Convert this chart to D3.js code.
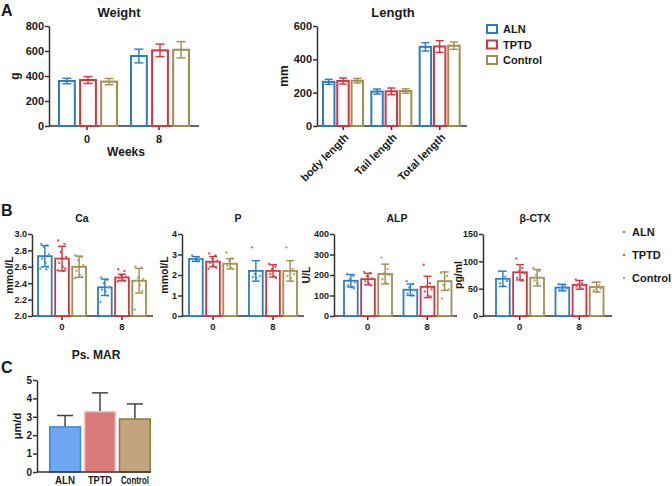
<!DOCTYPE html>
<html>
<head>
<meta charset="utf-8">
<script src="https://cdn.jsdelivr.net/npm/d3@7"></script>
<style>
  body { margin: 0; background: #fff; }
  text { font-family: Arial, "Liberation Sans", sans-serif; font-weight: bold; fill: #1a1a1a; }
</style>
</head>
<body>
<svg id="chart" width="672" height="486"></svg>
<script>
// ---- data ----
const series = ["ALN", "TPTD", "Control"];
const stroke = ["#2b7cc4", "#d2363e", "#a08d4f"];
const dotColor = ["#5fa3dd", "#dc5a61", "#bcaa72"];

const weeks = ["0", "8"];
const weightMean = [[360, 368, 355], [560, 605, 610]];
const weightSd = [[22, 28, 25], [55, 50, 65]];

const lengthCats = ["body length", "Tail length", "Total length"];
const lengthMean = [[265, 270, 272], [207, 208, 210], [475, 477, 482]];
const lengthSd = [[15, 18, 14], [15, 20, 13], [25, 35, 22]];

const caMean = [[2.73, 2.70, 2.60], [2.35, 2.47, 2.43]];
const caSd = [[0.13, 0.15, 0.13], [0.10, 0.04, 0.15]];
const caDots = [
  [[2.88, 2.86, 2.84, 2.75, 2.70, 2.65, 2.60, 2.58, 2.57],
   [2.92, 2.88, 2.78, 2.72, 2.65, 2.60, 2.58, 2.56, 2.55],
   [2.74, 2.72, 2.68, 2.62, 2.55, 2.50, 2.48, 2.46]],
  [[2.47, 2.44, 2.40, 2.35, 2.32, 2.30, 2.25, 2.17],
   [2.57, 2.55, 2.50, 2.48, 2.46, 2.44, 2.43, 2.42],
   [2.60, 2.59, 2.47, 2.45, 2.43, 2.38, 2.30, 2.08]]
];

const pMean = [[2.78, 2.65, 2.55], [2.20, 2.20, 2.20]];
const pSd = [[0.12, 0.25, 0.25], [0.50, 0.30, 0.50]];
const pDots = [
  [[2.95, 2.85, 2.80, 2.78, 2.75, 2.70, 2.68],
   [3.05, 2.95, 2.80, 2.70, 2.60, 2.45, 2.35, 2.30],
   [3.10, 2.80, 2.70, 2.55, 2.45, 2.35, 2.30]],
  [[3.35, 2.20, 2.05, 1.95, 1.90, 1.85],
   [2.55, 2.40, 2.30, 2.20, 2.05, 1.95, 1.85],
   [3.35, 2.30, 2.20, 2.05, 1.95, 1.85]]
];

const alpMean = [[172, 180, 205], [128, 142, 170]];
const alpSd = [[30, 28, 48], [28, 52, 45]];
const alpDots = [
  [[205, 195, 180, 165, 150, 140, 135],
   [215, 210, 195, 185, 170, 160, 150],
   [285, 230, 210, 200, 180, 160]],
  [[170, 155, 140, 125, 110, 100, 100],
   [250, 160, 145, 130, 120, 100, 95],
   [210, 195, 150, 130, 85]]
];

const ctxMean = [[68, 80, 70], [52, 57, 53]];
const ctxSd = [[14, 14, 15], [6, 8, 9]];
const ctxDots = [
  [[82, 72, 68, 64, 60, 55],
   [105, 88, 82, 78, 70, 65, 65],
   [88, 82, 75, 70, 65, 60]],
  [[58, 55, 52, 50, 48, 47],
   [67, 60, 58, 56, 54, 52, 50],
   [62, 56, 52, 50, 47, 45]]
];

const marCats = ["ALN", "TPTD", "Control"];
const marMean = [2.45, 3.28, 2.88];
const marSd = [0.62, 1.02, 0.82];
const marFill = ["#6ea8f2", "#d97a7a", "#c3a47e"];
const marStroke = ["#3f86de", "#f1c4c4", "#8c7c3a"];

const svg = d3.select("#chart");
const axisColor = "#333";
const jitter = [-0.55, 0.35, -0.15, 0.6, -0.4, 0.1, 0.45, -0.65, 0.2];

function yAxis(g, y, x, ticks, fmt, fs) {
  const ax = g.append("g")
    .attr("transform", "translate(" + x + ",0)")
    .call(d3.axisLeft(y).tickValues(ticks).tickFormat(fmt).tickSize(4).tickSizeOuter(0));
  ax.select(".domain").attr("stroke", axisColor).attr("stroke-width", 1.5);
  ax.selectAll(".tick line").attr("stroke", axisColor).attr("stroke-width", 1.5);
  ax.selectAll(".tick text").attr("font-size", fs).attr("fill", "#1a1a1a")
    .attr("x", -5).style("font-family", "Arial, 'Liberation Sans', sans-serif").style("font-weight", "bold");
}

function groupPanel(p) {
  const g = svg.append("g");
  const y = d3.scaleLinear().domain(p.yDomain).range([p.yBottom, p.yTop]);
  const x0 = d3.scaleBand().domain(p.cats).range(p.xRange);
  const x1 = d3.scaleBand().domain(series).range(p.inner).paddingInner(p.pad);
  const bw = x1.bandwidth();

  const rows = [];
  p.cats.forEach((c, i) => series.forEach((s, j) => {
    rows.push({ c: c, s: s, j: j, m: p.mean[i][j], sd: p.sd[i][j], dots: p.dots ? p.dots[i][j] : [] });
  }));

  // x axis line + ticks
  g.append("line").attr("x1", p.axisX).attr("x2", p.axisEnd)
    .attr("y1", p.yBottom).attr("y2", p.yBottom)
    .attr("stroke", axisColor).attr("stroke-width", 1.5);
  g.selectAll(".xt").data(p.cats).enter().append("line")
    .attr("x1", d => x0(d) + x0.bandwidth() / 2).attr("x2", d => x0(d) + x0.bandwidth() / 2)
    .attr("y1", p.yBottom).attr("y2", p.yBottom + 4)
    .attr("stroke", axisColor).attr("stroke-width", 1.5);

  const bars = g.selectAll(".bar").data(rows).enter().append("g");
  bars.append("rect")
    .attr("x", d => x0(d.c) + x1(d.s))
    .attr("y", d => y(d.m))
    .attr("width", bw)
    .attr("height", d => p.yBottom - y(d.m))
    .attr("fill", "#fff")
    .attr("stroke", d => stroke[d.j])
    .attr("stroke-width", p.sw);

  // dots
  bars.each(function (d) {
    const cx = x0(d.c) + x1(d.s) + bw / 2;
    d3.select(this).selectAll("circle").data(d.dots).enter().append("circle")
      .attr("cx", (v, k) => cx + jitter[k % jitter.length] * bw * 0.5)
      .attr("cy", v => y(v))
      .attr("r", 1.2)
      .attr("fill", dotColor[d.j]);
  });

  // error bars
  const cxOf = d => x0(d.c) + x1(d.s) + bw / 2;
  bars.append("line")
    .attr("x1", cxOf).attr("x2", cxOf)
    .attr("y1", d => y(d.m - d.sd)).attr("y2", d => y(d.m + d.sd))
    .attr("stroke", d => stroke[d.j]).attr("stroke-width", 1.4);
  [1, -1].forEach(sign => {
    bars.append("line")
      .attr("x1", d => cxOf(d) - p.cap / 2).attr("x2", d => cxOf(d) + p.cap / 2)
      .attr("y1", d => y(d.m + sign * d.sd)).attr("y2", d => y(d.m + sign * d.sd))
      .attr("stroke", d => stroke[d.j]).attr("stroke-width", 1.4);
  });

  yAxis(g, y, p.axisX, p.ticks, p.fmt, p.tickFs);

  // x labels
  if (p.rotate) {
    g.selectAll(".xl").data(p.cats).enter().append("text")
      .attr("transform", d => "translate(" + (x0(d) + x0.bandwidth() / 2 + 4) + "," + (p.yBottom + 10) + ") rotate(-45)")
      .attr("text-anchor", "end").attr("dominant-baseline", "middle")
      .attr("font-size", p.xFs).text(d => d);
  } else {
    g.selectAll(".xl").data(p.cats).enter().append("text")
      .attr("x", d => x0(d) + x0.bandwidth() / 2).attr("y", p.xLabelY)
      .attr("text-anchor", "middle").attr("font-size", p.xFs).text(d => d);
  }

  g.append("text").attr("x", p.titleX).attr("y", p.titleY).attr("text-anchor", "middle")
    .attr("font-size", p.titleFs).text(p.title);
  g.append("text").attr("transform", "translate(" + p.ylabX + "," + ((p.yTop + p.yBottom) / 2) + ") rotate(-90)")
    .attr("text-anchor", "middle").attr("font-size", p.ylabFs).text(p.ylab);
}

// ---- panel A ----
svg.append("text").attr("x", 1).attr("y", 16).attr("font-size", 16).text("A");
groupPanel({
  cats: weeks, mean: weightMean, sd: weightSd, yDomain: [0, 800], ticks: [0, 200, 400, 600, 800], fmt: d3.format("d"),
  yTop: 26, yBottom: 126, xRange: [51, 195], inner: [8, 66], pad: 0.25, axisX: 49, axisEnd: 199,
  sw: 2, cap: 9, tickFs: 11, xFs: 11, xLabelY: 143, title: "Weight", titleX: 119, titleY: 17, titleFs: 13,
  ylab: "g", ylabX: 19, ylabFs: 12
});
svg.append("text").attr("x", 126).attr("y", 156).attr("text-anchor", "middle").attr("font-size", 12).text("Weeks");

groupPanel({
  cats: lengthCats, mean: lengthMean, sd: lengthSd, yDomain: [0, 600], ticks: [0, 200, 400, 600], fmt: d3.format("d"),
  yTop: 26, yBottom: 126, xRange: [319, 464], inner: [4, 44], pad: 0.2, axisX: 317, axisEnd: 467,
  sw: 2, cap: 8, tickFs: 11, xFs: 11, rotate: true, title: "Length", titleX: 393, titleY: 17, titleFs: 13,
  ylab: "mm", ylabX: 288, ylabFs: 12
});

const legA = svg.append("g");
series.forEach((s, j) => {
  legA.append("rect").attr("x", 487).attr("y", 25 + j * 15.5).attr("width", 10).attr("height", 8)
    .attr("fill", "#fff").attr("stroke", stroke[j]).attr("stroke-width", 2);
  legA.append("text").attr("x", 503).attr("y", 33 + j * 15.5).attr("font-size", 11).text(s);
});

// ---- panel B ----
svg.append("text").attr("x", 1).attr("y", 216).attr("font-size", 16).text("B");
const bCommon = { cats: weeks, yTop: 234, yBottom: 316, inner: [6, 54], pad: 0.2, sw: 1.8, cap: 8,
  tickFs: 9, xFs: 9.5, xLabelY: 330, titleY: 222, titleFs: 10.5, ylabFs: 10.5 };
groupPanel(Object.assign({}, bCommon, {
  mean: caMean, sd: caSd, dots: caDots, yDomain: [2.0, 3.0], ticks: [2.0, 2.2, 2.4, 2.6, 2.8, 3.0], fmt: d3.format(".1f"),
  xRange: [32, 152], axisX: 32, axisEnd: 153, title: "Ca", titleX: 82, ylab: "mmol/L", ylabX: 13
}));
groupPanel(Object.assign({}, bCommon, {
  mean: pMean, sd: pSd, dots: pDots, yDomain: [0, 4], ticks: [0, 1, 2, 3, 4], fmt: d3.format("d"),
  xRange: [183, 303], axisX: 182, axisEnd: 304, title: "P", titleX: 238, ylab: "mmol/L", ylabX: 168
}));
groupPanel(Object.assign({}, bCommon, {
  mean: alpMean, sd: alpSd, dots: alpDots, yDomain: [0, 400], ticks: [0, 100, 200, 300, 400], fmt: d3.format("d"),
  xRange: [338, 457], axisX: 334, axisEnd: 457, title: "ALP", titleX: 397, ylab: "U/L", ylabX: 310
}));
groupPanel(Object.assign({}, bCommon, {
  mean: ctxMean, sd: ctxSd, dots: ctxDots, yDomain: [0, 150], ticks: [0, 50, 100, 150], fmt: d3.format("d"),
  xRange: [490, 609], axisX: 483, axisEnd: 612, title: "β-CTX", titleX: 535, ylab: "pg/ml", ylabX: 462
}));

const legB = svg.append("g");
series.forEach((s, j) => {
  legB.append("circle").attr("cx", 624).attr("cy", 232 + j * 23).attr("r", 1.3).attr("fill", dotColor[j]);
  legB.append("text").attr("x", 632).attr("y", 236 + j * 23).attr("font-size", 11).text(s);
});

// ---- panel C ----
svg.append("text").attr("x", 1).attr("y", 373).attr("font-size", 16).text("C");
const gC = svg.append("g");
const yC = d3.scaleLinear().domain([0, 5]).range([472, 380]);
const xC = d3.scaleBand().domain(marCats).range([48, 152]).paddingInner(0.12).paddingOuter(0.05);

gC.selectAll(".eb").data(marCats).enter().append("line")
  .attr("x1", d => xC(d) + xC.bandwidth() / 2).attr("x2", d => xC(d) + xC.bandwidth() / 2)
  .attr("y1", (d, i) => yC(marMean[i])).attr("y2", (d, i) => yC(marMean[i] + marSd[i]))
  .attr("stroke", "#444").attr("stroke-width", 1.5);
gC.selectAll(".cap").data(marCats).enter().append("line")
  .attr("x1", d => xC(d) + xC.bandwidth() / 2 - 8).attr("x2", d => xC(d) + xC.bandwidth() / 2 + 8)
  .attr("y1", (d, i) => yC(marMean[i] + marSd[i])).attr("y2", (d, i) => yC(marMean[i] + marSd[i]))
  .attr("stroke", "#444").attr("stroke-width", 1.5);
gC.selectAll("rect").data(marCats).enter().append("rect")
  .attr("x", d => xC(d)).attr("width", xC.bandwidth())
  .attr("y", (d, i) => yC(marMean[i])).attr("height", (d, i) => 472 - yC(marMean[i]))
  .attr("fill", (d, i) => marFill[i]).attr("stroke", (d, i) => marStroke[i]).attr("stroke-width", 1.5);

gC.append("line").attr("x1", 37).attr("x2", 151).attr("y1", 472).attr("y2", 472)
  .attr("stroke", axisColor).attr("stroke-width", 1.5);
yAxis(gC, yC, 37, [0, 1, 2, 3, 4, 5], d3.format("d"), 10);
// the C labels are narrower than normal bold text in the reference
const marLabelW = [20, 24, 28];
gC.selectAll(".xl").data(marCats).enter().append("text")
  .attr("x", d => xC(d) + xC.bandwidth() / 2).attr("y", 484)
  .attr("text-anchor", "middle").attr("font-size", 10.5)
  .attr("textLength", (d, i) => marLabelW[i]).attr("lengthAdjust", "spacingAndGlyphs")
  .text(d => d);
gC.append("text").attr("x", 96).attr("y", 359).attr("text-anchor", "middle").attr("font-size", 12).text("Ps. MAR");
gC.append("text").attr("transform", "translate(21,426) rotate(-90)").attr("text-anchor", "middle")
  .attr("font-size", 11).text("μm/d");
</script>
</body>
</html>
